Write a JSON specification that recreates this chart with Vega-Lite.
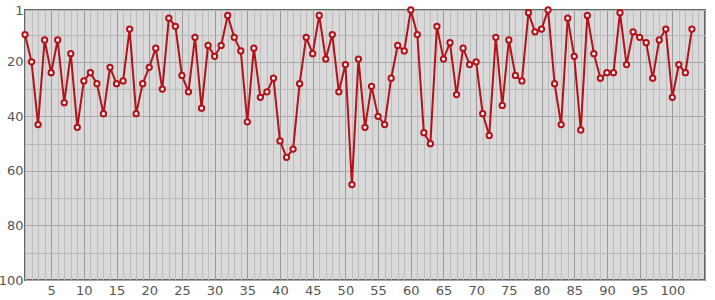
{
  "$schema": "https://vega.github.io/schema/vega-lite/v6.json",
  "width": 680,
  "height": 270,
  "autosize": "none",
  "padding": {"left": 25, "top": 10, "right": 10, "bottom": 20},
  "background": "#ffffff",
  "config": {
    "view": {"fill": "#d9d9d9", "stroke": "#666666", "strokeWidth": 2},
    "axis": {"labelFont": "DejaVu Sans", "labelFontSize": 13, "labelColor": "#555555", "ticks": false, "domain": false, "gridOpacity": 1, "gridWidth": 1}
  },
  "data": {"values": [
    {"x":1,"y":10},{"x":2,"y":20},{"x":3,"y":43},{"x":4,"y":12},{"x":5,"y":24},{"x":6,"y":12},{"x":7,"y":35},{"x":8,"y":17},{"x":9,"y":44},{"x":10,"y":27},
    {"x":11,"y":24},{"x":12,"y":28},{"x":13,"y":39},{"x":14,"y":22},{"x":15,"y":28},{"x":16,"y":27},{"x":17,"y":8},{"x":18,"y":39},{"x":19,"y":28},{"x":20,"y":22},
    {"x":21,"y":15},{"x":22,"y":30},{"x":23,"y":4},{"x":24,"y":7},{"x":25,"y":25},{"x":26,"y":31},{"x":27,"y":11},{"x":28,"y":37},{"x":29,"y":14},{"x":30,"y":18},
    {"x":31,"y":14},{"x":32,"y":3},{"x":33,"y":11},{"x":34,"y":16},{"x":35,"y":42},{"x":36,"y":15},{"x":37,"y":33},{"x":38,"y":31},{"x":39,"y":26},{"x":40,"y":49},
    {"x":41,"y":55},{"x":42,"y":52},{"x":43,"y":28},{"x":44,"y":11},{"x":45,"y":17},{"x":46,"y":3},{"x":47,"y":19},{"x":48,"y":10},{"x":49,"y":31},{"x":50,"y":21},
    {"x":51,"y":65},{"x":52,"y":19},{"x":53,"y":44},{"x":54,"y":29},{"x":55,"y":40},{"x":56,"y":43},{"x":57,"y":26},{"x":58,"y":14},{"x":59,"y":16},{"x":60,"y":1},
    {"x":61,"y":10},{"x":62,"y":46},{"x":63,"y":50},{"x":64,"y":7},{"x":65,"y":19},{"x":66,"y":13},{"x":67,"y":32},{"x":68,"y":15},{"x":69,"y":21},{"x":70,"y":20},
    {"x":71,"y":39},{"x":72,"y":47},{"x":73,"y":11},{"x":74,"y":36},{"x":75,"y":12},{"x":76,"y":25},{"x":77,"y":27},{"x":78,"y":2},{"x":79,"y":9},{"x":80,"y":8},
    {"x":81,"y":1},{"x":82,"y":28},{"x":83,"y":43},{"x":84,"y":4},{"x":85,"y":18},{"x":86,"y":45},{"x":87,"y":3},{"x":88,"y":17},{"x":89,"y":26},{"x":90,"y":24},
    {"x":91,"y":24},{"x":92,"y":2},{"x":93,"y":21},{"x":94,"y":9},{"x":95,"y":11},{"x":96,"y":13},{"x":97,"y":26},{"x":98,"y":12},{"x":99,"y":8},{"x":100,"y":33},
    {"x":101,"y":21},{"x":102,"y":24},{"x":103,"y":8}
  ]},
  "encoding": {
    "x": {"field": "x", "type": "quantitative",
      "scale": {"domain": [1, 105], "nice": false, "zero": false},
      "axis": {"title": null, "grid": true,
        "values": [1,2,3,4,5,6,7,8,9,10,11,12,13,14,15,16,17,18,19,20,21,22,23,24,25,26,27,28,29,30,31,32,33,34,35,36,37,38,39,40,41,42,43,44,45,46,47,48,49,50,51,52,53,54,55,56,57,58,59,60,61,62,63,64,65,66,67,68,69,70,71,72,73,74,75,76,77,78,79,80,81,82,83,84,85,86,87,88,89,90,91,92,93,94,95,96,97,98,99,100,101,102,103,104,105],
        "labelExpr": "datum.value % 5 === 0 && datum.value <= 100 ? datum.label : ''",
        "labelPadding": 4,
        "gridColor": {"condition": {"test": "datum.value % 5 === 0", "value": "#9a9a9a"}, "value": "#bdbdbd"}
      }},
    "y": {"field": "y", "type": "quantitative",
      "scale": {"domain": [1, 100], "reverse": true, "nice": false, "zero": false},
      "axis": {"title": null, "grid": true,
        "values": [1,10,20,30,40,50,60,70,80,90,100],
        "labelExpr": "datum.value === 1 || datum.value % 20 === 0 ? datum.label : ''",
        "labelPadding": 2,
        "gridColor": {"condition": {"test": "datum.value % 20 === 0", "value": "#a8a8a8"}, "value": "#b8b8b8"}
      }}
  },
  "layer": [
    {"mark": {"type": "line", "color": "#b31218", "strokeWidth": 2}},
    {"mark": {"type": "point", "shape": "circle", "filled": true, "fill": "#f4f4f4", "stroke": "#b31218", "strokeWidth": 2, "size": 28, "opacity": 1}}
  ]
}
